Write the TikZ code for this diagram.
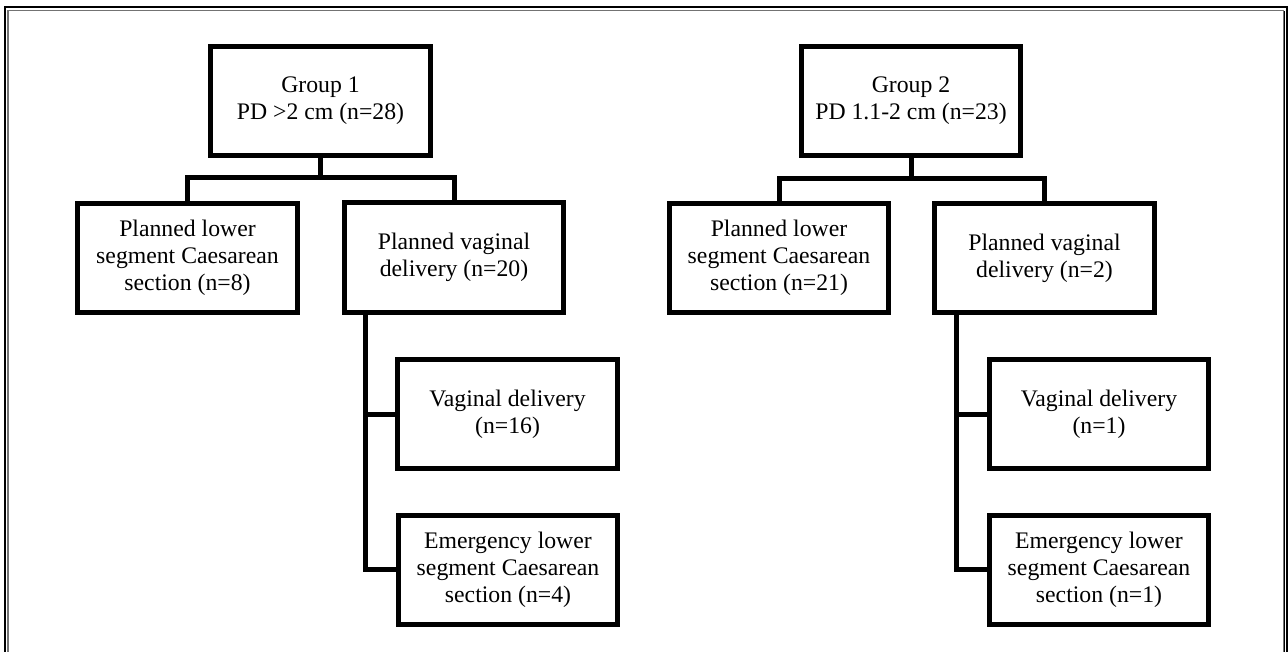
\documentclass[tikz,border=0pt]{standalone}
\usepackage{fontspec}
\setmainfont{Liberation Serif}
\begin{document}
\begin{tikzpicture}[x=0.75pt,y=-0.75pt,
  box/.style={draw, line width=3.75pt, minimum width=164.5pt, minimum height=81.75pt,
    align=center, inner sep=0pt, font=\fontsize{17.8}{20.25}\selectfont},
  conn/.style={line width=3.75pt, line join=miter},
  frameouter/.style={line width=1.5pt, black},
  frameinner/.style={line width=0.9pt, black!55}]
\useasboundingbox (0,0) rectangle (1288,652);
% outer frame
\coordinate (fa) at (5,660);
\coordinate (fb) at (5,7.5);
\coordinate (fc) at (1286.5,7.5);
\coordinate (fd) at (1286.5,660);
\draw[frameouter] (fa) -- (fb) -- (fc) -- (fd);
\coordinate (ga) at (8,660);
\coordinate (gb) at (8,10.5);
\coordinate (gc) at (1283.5,10.5);
\coordinate (gd) at (1283.5,660);
\draw[frameinner] (ga) -- (gb) -- (gc) -- (gd);
\draw[line width=0.75pt] (1284.6,11) -- (1284.6,660);

% group 1
\node[box] (g1) at (320.5,101) {Group 1\\PD >2 cm (n=28)};
\node[box] (pl1) at (187.5,258) {Planned lower\\segment Caesarean\\section (n=8)};
\node[box] (pv1) at (454,257.5) {Planned vaginal\\delivery (n=20)};
\node[box] (vd1) at (507.5,414) {Vaginal delivery\\(n=16)};
\node[box] (em1) at (508,569.5) {Emergency lower\\segment Caesarean\\section (n=4)};

% group 2
\node[box] (g2) at (911,101) {Group 2\\PD 1.1-2 cm (n=23)};
\node[box] (pl2) at (779,258) {Planned lower\\segment Caesarean\\section (n=21)};
\node[box] (pv2) at (1044.5,258) {Planned vaginal\\delivery (n=2)};
\node[box] (vd2) at (1099,414) {Vaginal delivery\\(n=1)};
\node[box] (em2) at (1099,569.5) {Emergency lower\\segment Caesarean\\section (n=1)};

% connectors group 1
\coordinate (h1) at (320.5,178);
\draw[conn] (g1.south) -- (h1);
\draw[conn] (pl1.north) -- (pl1.north |- h1) -- (pv1.north |- h1) -- (pv1.north);
\coordinate (v1) at (365,0);
\draw[conn] (v1 |- pv1.south) -- (v1 |- em1.west) -- (em1.west);
\draw[conn] (v1 |- vd1.west) -- (vd1.west);

% connectors group 2
\coordinate (h2) at (911,179);
\draw[conn] (g2.south) -- (h2);
\draw[conn] (pl2.north) -- (pl2.north |- h2) -- (pv2.north |- h2) -- (pv2.north);
\coordinate (v2) at (956,0);
\draw[conn] (v2 |- pv2.south) -- (v2 |- em2.west) -- (em2.west);
\draw[conn] (v2 |- vd2.west) -- (vd2.west);
\end{tikzpicture}
\end{document}
